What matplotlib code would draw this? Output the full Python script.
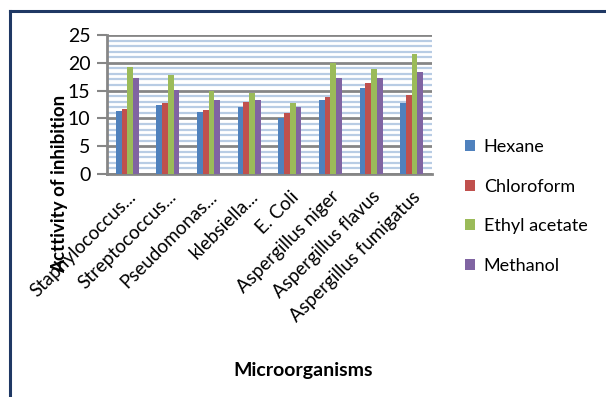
import numpy as np
import matplotlib
matplotlib.use('Agg')
import matplotlib.pyplot as plt
from matplotlib.lines import Line2D

plt.rcParams['font.family'] = ['Lato', 'DejaVu Sans']

organisms = ['Staphylococcus...', 'Streptococcus...', 'Pseudomonas...', 'klebsiella...',
             'E. Coli', 'Aspergillus niger', 'Aspergillus flavus', 'Aspergillus fumigatus']
solvents = ['Hexane', 'Chloroform', 'Ethyl acetate', 'Methanol']
hexane = [11.3, 12.5, 11.1, 12.0, 10.1, 13.4, 15.4, 12.7]
chloroform = [11.7, 12.8, 11.5, 13.0, 11.0, 13.9, 16.4, 14.2]
ethyl_acetate = [19.3, 17.8, 14.9, 14.5, 12.8, 19.9, 18.8, 21.6]
methanol = [17.2, 15.1, 13.4, 13.4, 12.0, 17.3, 17.2, 18.4]

colors = ['#4F81BD', '#C0504D', '#9BBB59', '#8064A2']

fig = plt.figure(figsize=(6.06, 3.97), dpi=100)
ax = fig.add_axes([0.1766, 0.5617, 0.5363, 0.3501])

x = np.arange(len(organisms))
width = 0.142
for i, (vals, name) in enumerate(zip([hexane, chloroform, ethyl_acetate, methanol], solvents)):
    ax.bar(x + (i - 1.5) * width, vals, width=width, color=colors[i], label=name, zorder=3)

ax.set_xlim(-0.5, len(organisms) - 0.5)
ax.set_ylim(0, 25)
ax.set_yticks(range(0, 26, 5))
ax.set_yticks(range(0, 26, 1), minor=True)
ax.grid(axis='y', which='minor', color='#B8CCE4', linewidth=1.6, zorder=1)
ax.grid(axis='y', which='major', color='#868686', linewidth=2, zorder=2)
ax.tick_params(axis='y', which='major', length=7, width=1.5, color='#868686',
               labelsize=14, pad=5)
ax.tick_params(axis='y', which='minor', length=0)
ax.tick_params(axis='x', length=0, labelsize=13.5, pad=10)
ax.set_xticks(x)
ax.set_xticklabels(organisms, rotation=45, ha='right', rotation_mode='anchor')

for side in ['top', 'right']:
    ax.spines[side].set_visible(False)
for side in ['left', 'bottom']:
    ax.spines[side].set_color('#868686')
    ax.spines[side].set_linewidth(2)

fig.text(0.099, 0.536, 'Acttivity of inhibition', rotation=90, fontsize=13.5,
         fontweight='bold', ha='center', va='center')
fig.text(0.5, 0.068, 'Microorganisms', fontsize=14, fontweight='bold',
         ha='center', va='center')

fig.legend(loc='upper left', bbox_to_anchor=(0.74, 0.69), frameon=False,
           fontsize=13, handlelength=0.55, handleheight=0.55, handletextpad=0.5,
           labelspacing=1.3)

# frame lines along the top and left edge
fig.add_artist(Line2D([9.5 / 606, 1], [1 - 10.5 / 397] * 2, color='#1F3864', linewidth=2.2))
fig.add_artist(Line2D([9.5 / 606] * 2, [0, 1 - 10.5 / 397], color='#1F3864', linewidth=2.2))

fig.savefig('out.png', dpi=100)
